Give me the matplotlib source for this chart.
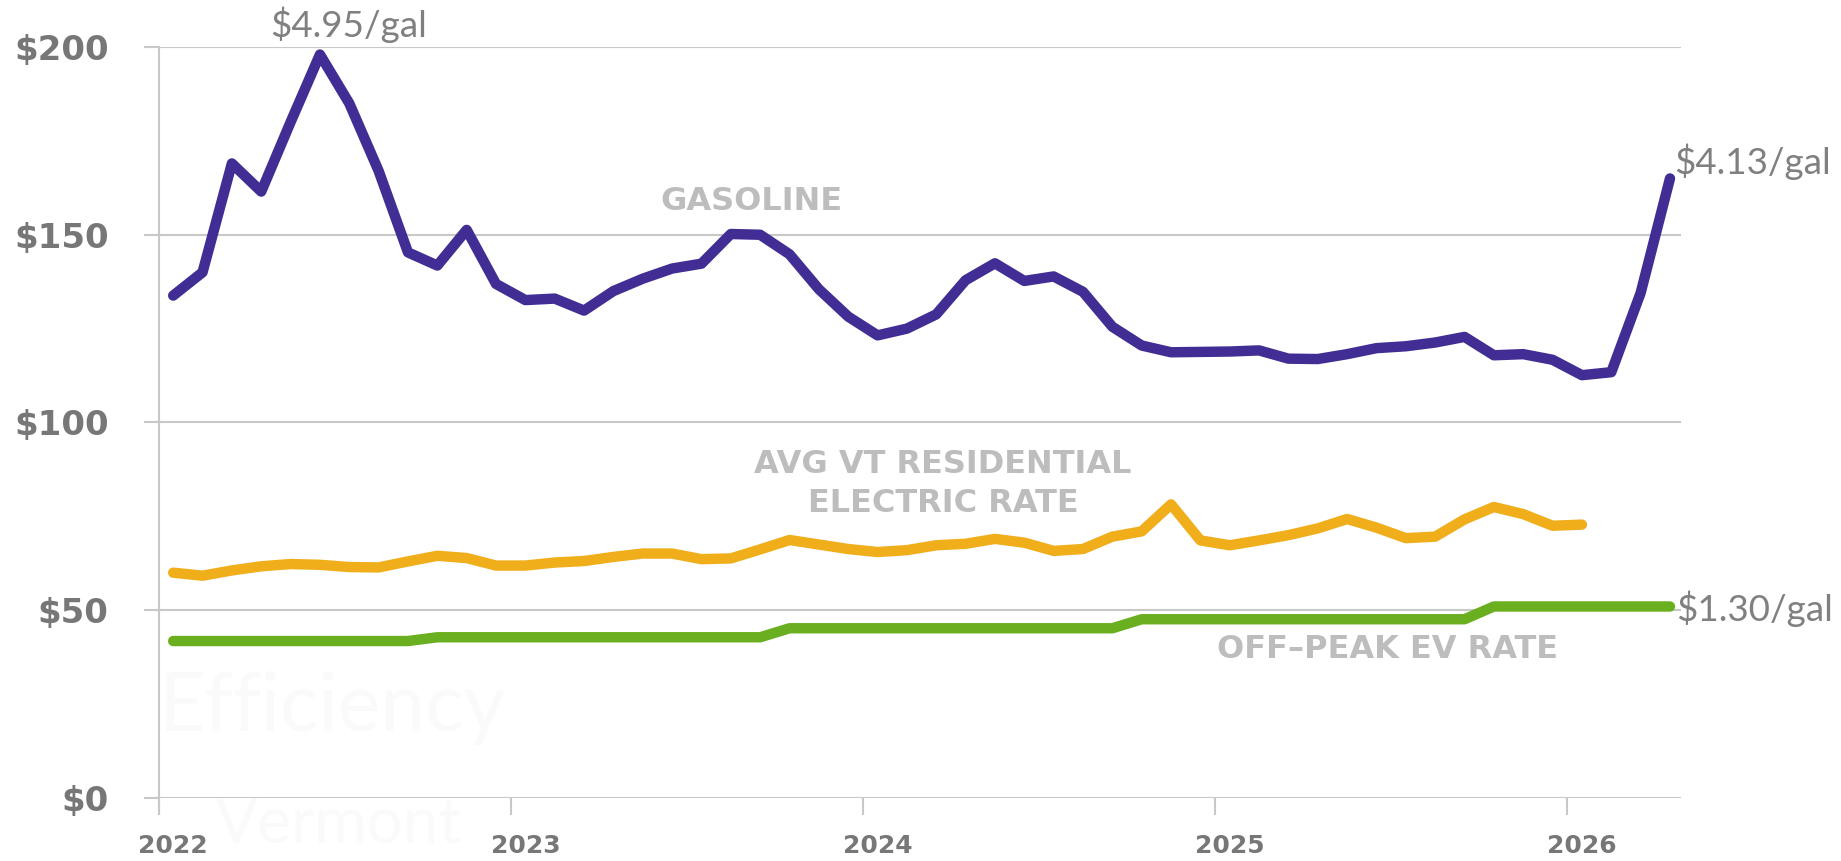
"""Monthly cost to drive: gasoline vs. VT residential electric rate vs. off-peak EV rate."""
import matplotlib
matplotlib.use("Agg")
import matplotlib.pyplot as plt
import numpy as np

# monthly values, first point = Jan 2022
gasoline = [133.8, 140.0, 169.0, 161.5, 180.0, 198.0, 185.0, 167.0, 145.3, 141.8,
            151.3, 136.9, 132.6, 133.0, 129.8, 135.0, 138.3, 141.0, 142.3, 150.2,
            150.0, 144.8, 135.5, 128.2, 123.2, 125.0, 128.8, 137.9, 142.4, 137.7,
            138.9, 134.8, 125.5, 120.5, 118.7, 118.8, 118.9, 119.2, 117.0, 116.9,
            118.2, 119.8, 120.3, 121.3, 122.8, 117.9, 118.2, 116.7, 112.6, 113.4,
            134.5, 165.0]
electric = [60.0, 59.2, 60.6, 61.7, 62.3, 62.1, 61.5, 61.4, 63.0, 64.5,
            63.9, 61.9, 61.9, 62.7, 63.1, 64.2, 65.1, 65.1, 63.6, 63.8,
            66.2, 68.7, 67.5, 66.3, 65.5, 66.0, 67.3, 67.7, 69.0, 68.0,
            65.8, 66.3, 69.6, 71.0, 78.2, 68.6, 67.3, 68.6, 70.0, 71.8,
            74.3, 72.0, 69.2, 69.6, 74.2, 77.5, 75.6, 72.5, 72.8]
ev_offpeak = [41.8] * 9 + [42.8] * 12 + [45.2] * 12 + [47.6] * 12 + [51.0] * 7

years = [2022, 2023, 2024, 2025, 2026]
y_ticks = [0, 50, 100, 150, 200]
y_labels = ["$0", "$50", "$100", "$150", "$200"]

PURPLE = "#412d93"
ORANGE = "#f0ae1b"
GREEN = "#6aaf1f"
GRID = "#c8c8c8"
TICKTXT = "#777777"
SERIESTXT = "#bdbdbd"


def xpos(n):
    # mid-month position in decimal years
    return 2022 + (np.arange(n) + 0.5) / 12


fig = plt.figure(figsize=(18.41, 8.61), dpi=100)
ax = fig.add_axes([0.0861, 0.0732, 0.827, 0.8722])

# faint watermark
ax.text(0.0, 0.12, "Efficiency", transform=ax.transAxes, fontsize=58, family="Lato",
        color="#fafafa", ha="left", va="center", zorder=0)
ax.text(0.037, -0.035, "Vermont", transform=ax.transAxes, fontsize=46, family="Lato",
        color="#fafafa", ha="left", va="center", zorder=0, clip_on=False)

lw = 7.5
ax.plot(xpos(len(ev_offpeak)), ev_offpeak, color=GREEN, lw=lw,
        solid_capstyle="round", solid_joinstyle="round", zorder=3, clip_on=False)
ax.plot(xpos(len(electric)), electric, color=ORANGE, lw=lw,
        solid_capstyle="round", solid_joinstyle="round", zorder=3, clip_on=False)
ax.plot(xpos(len(gasoline)), gasoline, color=PURPLE, lw=lw,
        solid_capstyle="round", solid_joinstyle="round", zorder=4, clip_on=False)

ax.set_xlim(2022, 2026.323)
ax.set_ylim(0, 200)

ax.set_yticks(y_ticks)
ax.set_yticklabels(y_labels)
ax.set_xticks(years)
ax.set_xticklabels([])
ax.set_xticks([y + 0.5 / 12 for y in years], minor=True)
ax.set_xticklabels([str(y) for y in years], minor=True)

ax.tick_params(axis="y", length=11, width=1.5, color=GRID, pad=25,
               labelsize=24.5, labelcolor=TICKTXT)
ax.tick_params(axis="x", which="major", length=12, width=1.5, color=GRID)
ax.tick_params(axis="x", which="minor", length=0, pad=26,
               labelsize=18, labelcolor=TICKTXT)
for lab in ax.get_yticklabels() + ax.get_xticklabels(minor=True):
    lab.set_fontweight("bold")

ax.grid(axis="y", color=GRID, lw=1.5)
ax.set_axisbelow(True)
for s in ["top", "right", "bottom"]:
    ax.spines[s].set_visible(False)
ax.spines["left"].set_color(GRID)
ax.spines["left"].set_linewidth(1.5)
ax.spines["left"].set_bounds(-4, 200)

# series labels
ax.text(2023.683, 158.8, "GASOLINE", fontsize=23, fontweight="bold",
        color=SERIESTXT, ha="center", va="center")
ax.text(2024.227, 83.6, "AVG VT RESIDENTIAL\nELECTRIC RATE", fontsize=23,
        fontweight="bold", color=SERIESTXT, ha="center", va="center",
        linespacing=1.35)
ax.text(2025.49, 39.6, "OFF\u2013PEAK EV RATE", fontsize=23, fontweight="bold",
        color=SERIESTXT, ha="center", va="center")

# price callouts
callout = dict(fontsize=26.5, family="Lato", color="#808080")
ax.text(2022.539, 206, "$4.95/gal", ha="center", va="center", clip_on=False, **callout)
ax.text(2026.303, 169.5, "$4.13/gal", ha="left", va="center", clip_on=False, **callout)
ax.text(2026.31, 50.5, "$1.30/gal", ha="left", va="center", clip_on=False, **callout)

fig.savefig("out.png", dpi=100)
